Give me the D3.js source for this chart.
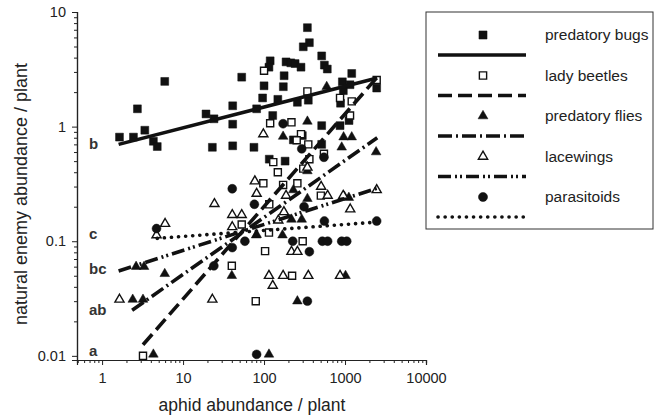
<!DOCTYPE html>
<html>
<head>
<meta charset="utf-8">
<script src="https://cdn.jsdelivr.net/npm/d3@7"></script>
<style>
  body { margin: 0; background: #fff; }
  svg { font-family: "Liberation Sans", Arial, sans-serif; }
</style>
</head>
<body>
<svg width="654" height="417"></svg>
<script>
const svg = d3.select("svg");

// Data: [aphids / plant, enemies / plant]
const predatoryBugs = [
  [1.64, 0.81], [2.44, 0.81], [2.73, 1.43], [3.37, 0.93], [4.3, 0.745], [4.8, 0.67],
  [5.94, 2.48], [19.2, 1.29], [24.1, 1.17], [23, 0.66], [41, 1.52], [41, 1.05],
  [41, 0.68], [53, 2.7], [75, 0.66], [81, 1.43], [343, 7.3], [363, 5.4], [305, 4.97],
  [515, 4.14], [556, 3.44], [604, 3.18], [119, 3.75], [115, 3.3], [187, 3.67],
  [214, 3.6], [242, 3.55], [286, 3.3], [100, 2.27], [177, 2.78], [173, 2.23],
  [96, 1.78], [148, 1.73], [258, 1.63], [352, 1.7], [128, 1.25], [1210, 2.91],
  [927, 2.46], [1153, 2.32], [953, 2.06], [2460, 2.17], [515, 1.02], [868, 1.02],
  [1120, 1.13], [297, 0.835], [230, 0.766], [116, 0.52], [182, 0.5], [515, 0.7],
  [880, 1.6]
];
const ladyBeetles = [
  [100, 3.07], [343, 2.03], [868, 1.78], [1210, 1.66], [2460, 2.55], [1153, 1.25],
  [218, 1.09], [119, 1.07], [286, 0.86], [253, 0.76], [352, 0.7], [549, 0.58],
  [363, 0.52], [130, 0.49], [148, 0.4], [305, 0.43], [98, 0.32], [172, 0.31],
  [258, 0.32], [116, 0.21], [503, 0.25], [53, 0.14], [115, 0.119], [300, 0.1],
  [103, 0.082], [40, 0.061], [222, 0.05], [79, 0.03], [3.2, 0.01]
];
const predatoryFlies = [
  [594, 2.23], [343, 1.11], [172, 0.82], [960, 0.81], [1210, 0.81], [910, 0.66],
  [2420, 0.6], [230, 0.28], [343, 0.235], [218, 0.155], [292, 0.155], [169, 0.113],
  [80, 0.113], [980, 0.246], [1115, 0.24], [40, 0.05], [1015, 0.05], [258, 0.03],
  [115, 0.0103], [5.94, 0.052], [2.39, 0.031], [3.2, 0.031], [2.63, 0.06],
  [3.3, 0.06], [4.3, 0.0103], [81, 0.114], [343, 0.41]
];
const lacewings = [
  [1.64, 0.031], [23, 0.031], [4.7, 0.113], [6.0, 0.142], [24.4, 0.212], [40.5, 0.17],
  [53, 0.17], [40.5, 0.133], [77, 0.334], [81, 0.26], [507, 0.3], [610, 0.25],
  [950, 0.25], [2460, 0.28], [1160, 0.19], [187, 0.25], [150, 0.152], [218, 0.081],
  [258, 0.081], [115, 0.05], [172, 0.05], [352, 0.05], [868, 0.05], [128, 0.041],
  [176, 0.18], [343, 0.44], [98, 0.86]
];
const parasitoids = [
  [4.7, 0.129], [40.5, 0.287], [24, 0.061], [40.5, 0.088], [58, 0.1], [76, 0.21],
  [81, 0.0103], [312, 0.2], [226, 0.1], [363, 0.081], [556, 0.15], [525, 0.1],
  [610, 0.1], [910, 0.1], [1050, 0.1], [2460, 0.15], [343, 0.03], [172, 1.06],
  [292, 0.64], [549, 0.54]
];

// fitted lines, end points
const fitBugs = [[1.6, 0.7], [2500, 2.65]];
const fitLady = [[3.2, 0.0125], [2500, 2.7]];
const fitFlies = [[2.35, 0.025], [2500, 0.8]];
const fitLace = [[1.6, 0.055], [2500, 0.29]];
const fitPara = [[4.8, 0.106], [2500, 0.147]];

const groupNames = ["predatory bugs", "lady beetles", "predatory flies", "lacewings", "parasitoids"];
const letters = ["b", "a", "ab", "bc", "c"];
const letterY = [0.71, 0.011, 0.025, 0.058, 0.117];

const xTicks = [1, 10, 100, 1000, 10000];
const yTicks = [0.01, 0.1, 1, 10];

const x = d3.scaleLog().domain([0.49, 10000]).range([77, 426]);
const y = d3.scaleLog().domain([0.0092, 10]).range([360, 12]);

const series = [
  { pts: predatoryBugs, fit: fitBugs, sym: d3.symbolSquare, size: 62, open: false, dash: null },
  { pts: ladyBeetles, fit: fitLady, sym: d3.symbolSquare, size: 50, open: true, dash: "14,6" },
  { pts: predatoryFlies, fit: fitFlies, sym: d3.symbolTriangle, size: 40, open: false, dash: "14,4,2,4" },
  { pts: lacewings, fit: fitLace, sym: d3.symbolTriangle, size: 36, open: true, dash: "13,4,2,3,2,4" },
  { pts: parasitoids, fit: fitPara, sym: d3.symbolCircle, size: 62, open: false, dash: "0.1,7" }
];

// minor ticks
function minors(lo, hi) {
  const out = [];
  for (let d = lo; d < hi; d *= 10)
    for (let k = 1; k <= 9; k++) out.push(+(d * k).toPrecision(3));
  return out;
}
const xMinor = minors(0.1, 10000).filter(v => v >= 0.49 && !xTicks.includes(v));
const yMinor = minors(0.01, 10).filter(v => !yTicks.includes(v));

// axes
const gx = svg.append("g").attr("transform", "translate(0,360)");
gx.call(d3.axisBottom(x).tickValues(xMinor).tickSize(3).tickFormat(""));
gx.call(g => g.append("g").call(d3.axisBottom(x).tickValues(xTicks).tickSize(5).tickFormat(d3.format("d"))));
gx.selectAll(".domain").attr("stroke", "#222").attr("stroke-width", 1.2);
gx.selectAll("line").attr("stroke", "#222");
gx.selectAll("text").attr("font-size", 14.5).attr("fill", "#222").attr("font-family", "Liberation Sans, Arial").attr("dy", "1.0em");

const gy = svg.append("g").attr("transform", "translate(77,0)");
gy.call(d3.axisLeft(y).tickValues(yMinor).tickSize(3).tickFormat(""));
gy.call(g => g.append("g").call(d3.axisLeft(y).tickValues(yTicks).tickSize(5).tickFormat(d => d)));
gy.selectAll(".domain").attr("stroke", "#222").attr("stroke-width", 1.2);
gy.selectAll("line").attr("stroke", "#222");
gy.selectAll("text").attr("font-size", 14.5).attr("fill", "#222").attr("font-family", "Liberation Sans, Arial").attr("x", -11);

// axis titles
svg.append("text").attr("x", 252).attr("y", 411).attr("text-anchor", "middle")
  .attr("font-size", 17.5).attr("fill", "#222").text("aphid abundance / plant");
svg.append("text").attr("transform", "translate(27,194) rotate(-90)").attr("text-anchor", "middle")
  .attr("font-size", 18).attr("fill", "#222").text("natural enemy abundance / plant");

// points
series.forEach(s => {
  svg.append("g").selectAll("path").data(s.pts).join("path")
    .attr("d", d3.symbol(s.sym, s.size))
    .attr("transform", d => `translate(${x(d[0])},${y(d[1])})`)
    .attr("fill", s.open ? "#fff" : "#111")
    .attr("stroke", "#111")
    .attr("stroke-width", s.open ? 1.4 : 0.5);
});

// fitted lines
const line = d3.line().x(d => x(d[0])).y(d => y(d[1]));
series.forEach(s => {
  svg.append("path").attr("d", line(s.fit))
    .attr("fill", "none").attr("stroke", "#111").attr("stroke-width", 3.6)
    .attr("stroke-dasharray", s.dash)
    .attr("stroke-linecap", s.dash && s.dash.startsWith("0.1") ? "round" : "butt");
});

// significance letters
svg.append("g").selectAll("text").data(letters).join("text")
  .attr("x", 89).attr("y", (d, i) => y(letterY[i]))
  .attr("dy", "0.35em").attr("font-size", 15).attr("font-weight", "bold").attr("fill", "#333")
  .text(d => d);

// legend
const lg = svg.append("g");
lg.append("rect").attr("x", 426).attr("y", 12).attr("width", 227).attr("height", 217)
  .attr("fill", "none").attr("stroke", "#333").attr("stroke-width", 1);
series.forEach((s, i) => {
  const yy = 35 + i * 40.5;
  lg.append("path").attr("d", d3.symbol(s.sym, s.size * 1.05))
    .attr("transform", `translate(483,${yy})`)
    .attr("fill", s.open ? "#fff" : "#111").attr("stroke", "#111")
    .attr("stroke-width", s.open ? 1.4 : 0.5);
  lg.append("line").attr("x1", 438).attr("x2", 526).attr("y1", yy + 20).attr("y2", yy + 20)
    .attr("stroke", "#111").attr("stroke-width", 3.6)
    .attr("stroke-dasharray", s.dash)
    .attr("stroke-linecap", s.dash && s.dash.startsWith("0.1") ? "round" : "butt");
  lg.append("text").attr("x", 545).attr("y", yy).attr("dy", "0.35em")
    .attr("font-size", 15.5).attr("fill", "#222").text(groupNames[i]);
});
</script>
</body>
</html>
